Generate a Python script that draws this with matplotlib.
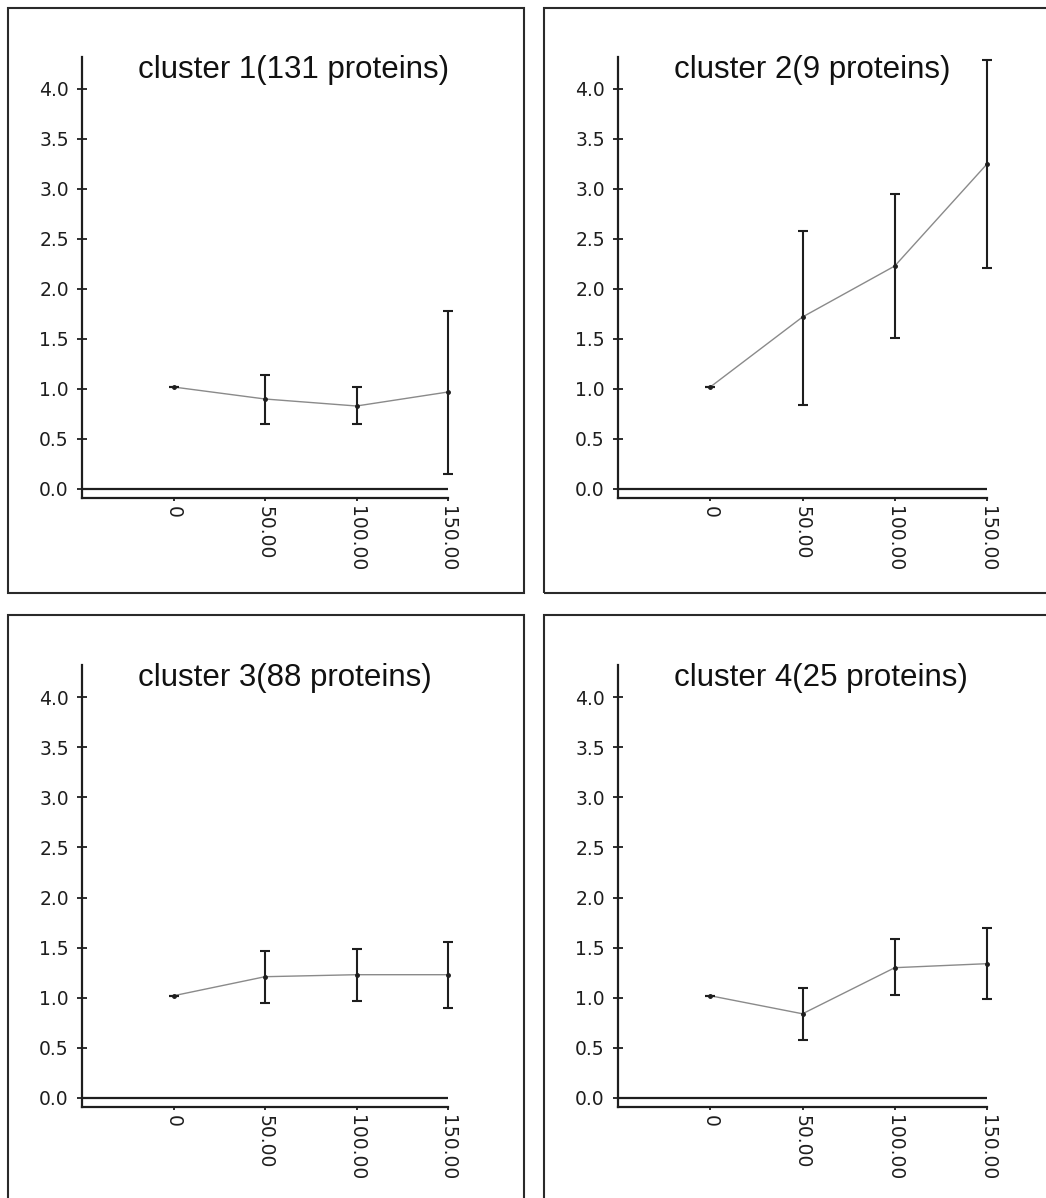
import numpy as np
import matplotlib.pyplot as plt
from matplotlib.patches import Rectangle

# time points and labels
time_points = [0, 50, 100, 150]
x_labels = ["0", "50.00", "100.00", "150.00"]
titles = ["cluster 1(131 proteins)", "cluster 2(9 proteins)",
          "cluster 3(88 proteins)", "cluster 4(25 proteins)"]

# mean ratio and error bar ends
c1_mean = [1.02, 0.90, 0.83, 0.97]
c1_low = [1.02, 0.65, 0.65, 0.15]
c1_high = [1.02, 1.14, 1.02, 1.78]

c2_mean = [1.02, 1.72, 2.23, 3.25]
c2_low = [1.02, 0.84, 1.51, 2.21]
c2_high = [1.02, 2.58, 2.95, 4.29]

c3_mean = [1.02, 1.21, 1.23, 1.23]
c3_low = [1.02, 0.95, 0.97, 0.90]
c3_high = [1.02, 1.47, 1.49, 1.56]

c4_mean = [1.02, 0.84, 1.30, 1.34]
c4_low = [1.02, 0.58, 1.03, 0.99]
c4_high = [1.02, 1.10, 1.59, 1.70]

means = [c1_mean, c2_mean, c3_mean, c4_mean]
lows = [c1_low, c2_low, c3_low, c4_low]
highs = [c1_high, c2_high, c3_high, c4_high]

W, H = 1046, 1198
fig = plt.figure(figsize=(W / 100, H / 100), dpi=100)

# pixel boxes: axes (left, right, top, bottom) and panel borders
ax_boxes = [(82, 448, 57, 498), (618, 987, 57, 498),
            (82, 448, 665, 1107), (618, 987, 665, 1107)]
borders = [(8, 8, 524, 593), (544, 8, 1050, 593),
           (8, 615, 524, 1205), (544, 615, 1050, 1205)]

for (x0, y0, x1, y1) in borders:
    fig.add_artist(Rectangle((x0 / W, 1 - y1 / H), (x1 - x0) / W, (y1 - y0) / H,
                             transform=fig.transFigure, fill=False,
                             edgecolor="#2a2a2a", linewidth=1.5))

for i in range(4):
    l, r, t, b = ax_boxes[i]
    ax = fig.add_axes([l / W, 1 - b / H, (r - l) / W, (b - t) / H])

    m = np.array(means[i])
    lo = np.array(lows[i])
    hi = np.array(highs[i])

    ax.axhline(0, color="#1e1e1e", linewidth=1.6, zorder=1)
    ax.plot(time_points, m, color="#8a8a8a", linewidth=1.0, zorder=2)
    ax.errorbar(time_points, m, yerr=[m - lo, hi - m], fmt="o", color="#1e1e1e",
                markersize=2.5, elinewidth=1.5, capsize=3.5, capthick=1.5,
                clip_on=False, zorder=3)

    ax.set_xlim(-50, 150)
    ax.set_ylim(-0.09, 4.32)

    ax.set_yticks(np.arange(0, 4.01, 0.5))
    ax.set_yticklabels(["%.1f" % v for v in np.arange(0, 4.01, 0.5)])
    ax.set_xticks(time_points)
    ax.set_xticklabels(x_labels, rotation=-90)

    for side in ["top", "right"]:
        ax.spines[side].set_visible(False)
    for side in ["left", "bottom"]:
        ax.spines[side].set_color("#1e1e1e")
        ax.spines[side].set_linewidth(1.6)

    ax.tick_params(axis="y", direction="inout", length=7, width=1.3,
                   pad=6, labelsize=13.5, colors="#1e1e1e")
    ax.tick_params(axis="x", direction="out", length=2.5, width=1.3,
                   pad=3, labelsize=13.5, colors="#1e1e1e")
    for lab in ax.get_xticklabels():
        lab.set_va("top")

    ax.text(56 / (r - l), 4.11, titles[i], transform=ax.get_yaxis_transform(),
            ha="left", va="baseline", fontsize=22.5, family="Liberation Sans",
            color="#111111")

fig.savefig("out.png", dpi=100)
